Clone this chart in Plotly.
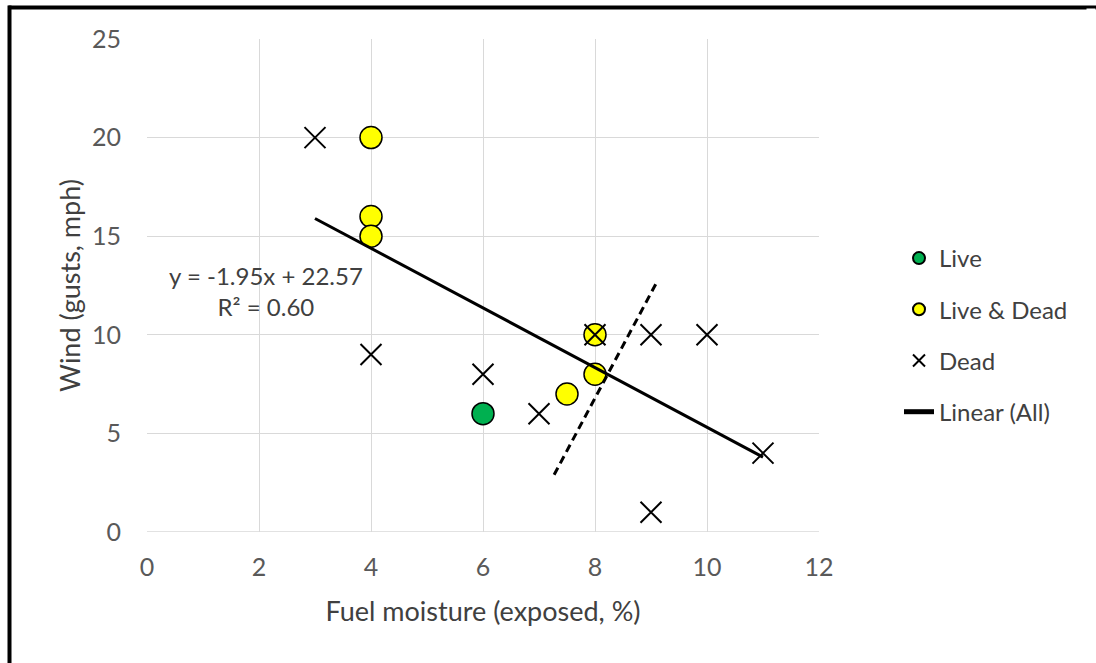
import plotly.graph_objects as go

# ---- data ----
live_x = [6]
live_y = [6]
livedead_x = [4, 4, 4, 8, 7.5, 8]
livedead_y = [20, 16, 15, 10, 7, 8]
dead_x = [3, 4, 6, 7, 8, 9, 10, 11, 9]
dead_y = [20, 9, 8, 6, 10, 10, 10, 4, 1]
trend_x = [3, 11]
trend_y = [15.9, 3.8]
divider_x = [7.27, 9.09]
divider_y = [2.9, 12.6]
x_ticks = [0, 2, 4, 6, 8, 10, 12]
y_ticks = [0, 5, 10, 15, 20, 25]
eq_text = "y = -1.95x + 22.57<br>R² = 0.60"

FONT = "Lato"
W, H = 1096, 663
ML, MR, MT, MB = 147, 277, 39, 131
PW, PH = W - ML - MR, H - MT - MB


def px_x(xp):
    return (xp - ML) / PW


def px_y(yp):
    return 1 - (yp - MT) / PH


fig = go.Figure()
fig.add_trace(go.Scatter(
    x=live_x, y=live_y, mode="markers", name="Live", legendgroup="a",
    marker=dict(symbol="circle", size=22, color="#00B050",
                line=dict(color="black", width=1.5))))
fig.add_trace(go.Scatter(
    x=livedead_x, y=livedead_y, mode="markers", name="Live & Dead", legendgroup="b",
    marker=dict(symbol="circle", size=22, color="#FFFF00",
                line=dict(color="black", width=1.5))))
fig.add_trace(go.Scatter(
    x=dead_x, y=dead_y, mode="markers", name="Dead", legendgroup="c",
    marker=dict(symbol="x-thin", size=21, color="black",
                line=dict(color="black", width=2))))
fig.add_trace(go.Scatter(
    x=trend_x, y=trend_y, mode="lines", name="Linear (All)", legendgroup="d",
    line=dict(color="black", width=3)))
fig.add_trace(go.Scatter(
    x=divider_x, y=divider_y, mode="lines", showlegend=False,
    line=dict(color="black", width=3, dash="8px,5px")))

fig.add_annotation(x=2.12, y=12.24, xref="x", yref="y", text=eq_text,
                   showarrow=False, align="center",
                   font=dict(family=FONT, size=24, color="#404040"))

# outer border: top edge and left edge (right and bottom fall outside the frame)
fig.add_annotation(xref="paper", yref="paper", x=px_x(8), y=px_y(5),
                   xanchor="left", yanchor="top", showarrow=False, text="",
                   width=W - 8, height=3, bgcolor="black", borderpad=0)
fig.add_annotation(xref="paper", yref="paper", x=px_x(7), y=px_y(5),
                   xanchor="left", yanchor="top", showarrow=False, text="",
                   width=3, height=H - 5, bgcolor="black", borderpad=0)
# keep the right edge of the frame clean
fig.add_annotation(xref="paper", yref="paper", x=px_x(W), y=px_y(8),
                   xanchor="right", yanchor="top", showarrow=False, text="",
                   width=8, height=H - 8, bgcolor="white", borderpad=0)

axis_common = dict(
    showgrid=True, gridcolor="#D9D9D9", gridwidth=1,
    zeroline=False, showline=False, ticks="",
    tickfont=dict(family=FONT, size=25, color="#595959"),
)
fig.update_xaxes(range=[0, 12], tickvals=x_ticks, ticklabelstandoff=18,
                 title=dict(text="Fuel moisture (exposed, %)", standoff=22,
                            font=dict(family=FONT, size=27, color="#404040")),
                 **axis_common)
fig.update_yaxes(range=[0, 25], tickvals=y_ticks, ticklabelstandoff=25,
                 title=dict(text="Wind (gusts, mph)", standoff=3,
                            font=dict(family=FONT, size=27, color="#404040")),
                 **axis_common)
fig.add_shape(type="line", xref="paper", yref="y", x0=0, x1=1, y0=0, y1=0,
              line=dict(color="#D9D9D9", width=1.5), layer="below")

fig.update_layout(
    width=W, height=H,
    margin=dict(l=ML, r=MR, t=MT, b=MB, autoexpand=False),
    plot_bgcolor="white", paper_bgcolor="white",
    legend=dict(x=px_x(899), y=px_y(236), xanchor="left", yanchor="top",
                traceorder="grouped", tracegroupgap=17, itemsizing="constant",
                font=dict(family=FONT, size=24, color="#404040"),
                bgcolor="rgba(0,0,0,0)"),
    showlegend=True,
)

fig.write_html("out.html")
